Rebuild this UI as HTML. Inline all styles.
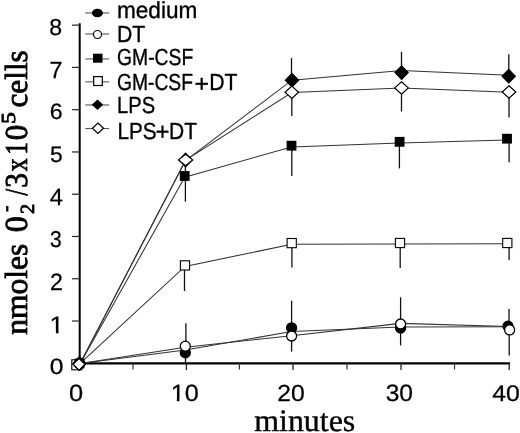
<!DOCTYPE html>
<html><head><meta charset="utf-8"><style>
html,body{margin:0;padding:0;background:#fff;}
body{width:520px;height:433px;overflow:hidden;}
svg{display:block;will-change:transform;}
text{text-rendering:geometricPrecision;fill:#000;}
</style></head><body>
<svg width="520" height="433" viewBox="0 0 520 433">
<line x1="79.7" y1="23.3" x2="79.7" y2="364.4" stroke="#000" stroke-width="2"/>
<line x1="78.7" y1="363.3" x2="510" y2="363.3" stroke="#000" stroke-width="2.2"/>
<line x1="72" y1="363.30" x2="79.7" y2="363.30" stroke="#222" stroke-width="1.2"/>
<line x1="72" y1="321.03" x2="79.7" y2="321.03" stroke="#222" stroke-width="1.2"/>
<line x1="72" y1="278.76" x2="79.7" y2="278.76" stroke="#222" stroke-width="1.2"/>
<line x1="72" y1="236.49" x2="79.7" y2="236.49" stroke="#222" stroke-width="1.2"/>
<line x1="72" y1="194.22" x2="79.7" y2="194.22" stroke="#222" stroke-width="1.2"/>
<line x1="72" y1="151.95" x2="79.7" y2="151.95" stroke="#222" stroke-width="1.2"/>
<line x1="72" y1="109.68" x2="79.7" y2="109.68" stroke="#222" stroke-width="1.2"/>
<line x1="72" y1="67.41" x2="79.7" y2="67.41" stroke="#222" stroke-width="1.2"/>
<line x1="72" y1="25.14" x2="79.7" y2="25.14" stroke="#222" stroke-width="1.2"/>
<line x1="186.4" y1="363.3" x2="186.4" y2="370" stroke="#222" stroke-width="1.3"/>
<line x1="293" y1="363.3" x2="293" y2="370" stroke="#222" stroke-width="1.3"/>
<line x1="401" y1="363.3" x2="401" y2="370" stroke="#222" stroke-width="1.3"/>
<line x1="509.2" y1="363.3" x2="509.2" y2="370" stroke="#222" stroke-width="1.3"/>
<line x1="133" y1="363.3" x2="133" y2="369.5" stroke="#333" stroke-width="1.2"/>
<line x1="239.4" y1="363.3" x2="239.4" y2="369.5" stroke="#333" stroke-width="1.2"/>
<line x1="347" y1="363.3" x2="347" y2="369.5" stroke="#333" stroke-width="1.2"/>
<line x1="454.5" y1="363.3" x2="454.5" y2="369.5" stroke="#333" stroke-width="1.2"/>
<polyline points="80.2,363.4 185.3,350.0 291.6,331.6 400.6,326.9 508.5,326.7" fill="none" stroke="#333" stroke-width="1.05"/>
<polyline points="80.2,363.4 185.3,347.3 291.6,335.7 400.6,323.4 508.5,326.6" fill="none" stroke="#333" stroke-width="1.05"/>
<polyline points="80.2,363.4 184.7,177.2 291.5,146.9 399.6,143.0 507.0,139.9" fill="none" stroke="#333" stroke-width="1.05"/>
<polyline points="80.2,363.4 185.0,266.4 291.7,244.3 400.0,244.0 507.3,243.8" fill="none" stroke="#333" stroke-width="1.05"/>
<polyline points="80.2,363.4 185.6,160.5 292.0,80.2 401.6,70.5 508.7,75.2" fill="none" stroke="#333" stroke-width="1.05"/>
<polyline points="80.2,363.4 185.6,160.1 291.8,92.5 401.5,88.1 509.0,92.2" fill="none" stroke="#333" stroke-width="1.05"/>
<line x1="185.5" y1="352.8" x2="185.5" y2="363.5" stroke="#111" stroke-width="1.3"/>
<line x1="291.6" y1="300.7" x2="291.6" y2="327.8" stroke="#111" stroke-width="1.3"/>
<line x1="400.6" y1="328.0" x2="400.6" y2="345.4" stroke="#111" stroke-width="1.3"/>
<line x1="509.0" y1="309" x2="509.0" y2="326.2" stroke="#111" stroke-width="1.3"/>
<line x1="185.9" y1="323.3" x2="185.9" y2="346.2" stroke="#111" stroke-width="1.3"/>
<line x1="291.6" y1="336.0" x2="291.6" y2="351.5" stroke="#111" stroke-width="1.3"/>
<line x1="400.6" y1="297.3" x2="400.6" y2="324" stroke="#111" stroke-width="1.3"/>
<line x1="509.2" y1="329.9" x2="509.2" y2="355.5" stroke="#111" stroke-width="1.3"/>
<line x1="185.4" y1="160" x2="185.4" y2="201.7" stroke="#111" stroke-width="1.3"/>
<line x1="291.8" y1="145.7" x2="291.8" y2="175.9" stroke="#111" stroke-width="1.3"/>
<line x1="399.4" y1="141.8" x2="399.4" y2="168.4" stroke="#111" stroke-width="1.3"/>
<line x1="509.1" y1="138.7" x2="509.1" y2="162.3" stroke="#111" stroke-width="1.3"/>
<line x1="184.5" y1="265.4" x2="184.5" y2="291" stroke="#111" stroke-width="1.3"/>
<line x1="291.9" y1="243.1" x2="291.9" y2="267.6" stroke="#111" stroke-width="1.3"/>
<line x1="400.2" y1="243" x2="400.2" y2="268" stroke="#111" stroke-width="1.3"/>
<line x1="509.1" y1="243" x2="509.1" y2="259.9" stroke="#111" stroke-width="1.3"/>
<line x1="291.5" y1="58.1" x2="291.5" y2="80.2" stroke="#111" stroke-width="1.3"/>
<line x1="401.5" y1="51.8" x2="401.5" y2="72.6" stroke="#111" stroke-width="1.3"/>
<line x1="508.8" y1="54.3" x2="508.8" y2="76.2" stroke="#111" stroke-width="1.3"/>
<line x1="291.8" y1="92.3" x2="291.8" y2="116" stroke="#111" stroke-width="1.3"/>
<line x1="401.5" y1="87.9" x2="401.5" y2="111.4" stroke="#111" stroke-width="1.3"/>
<line x1="509.0" y1="92" x2="509.0" y2="117.5" stroke="#111" stroke-width="1.3"/>
<rect x="75.20" y="359.20" width="8.60" height="8.60" fill="#000" stroke="#000" stroke-width="1.2"/>
<rect x="180.40" y="171.70" width="8.60" height="8.60" fill="#000" stroke="#000" stroke-width="1.2"/>
<rect x="287.20" y="141.40" width="8.60" height="8.60" fill="#000" stroke="#000" stroke-width="1.2"/>
<rect x="395.30" y="137.50" width="8.60" height="8.60" fill="#000" stroke="#000" stroke-width="1.2"/>
<rect x="502.70" y="134.40" width="8.60" height="8.60" fill="#000" stroke="#000" stroke-width="1.2"/>
<rect x="71.80" y="359.80" width="10.00" height="10.00" fill="#fff" stroke="#000" stroke-width="1.1"/>
<rect x="180.40" y="260.80" width="9.20" height="9.20" fill="#fff" stroke="#000" stroke-width="1.1"/>
<rect x="287.10" y="238.50" width="9.20" height="9.20" fill="#fff" stroke="#000" stroke-width="1.1"/>
<rect x="395.40" y="238.40" width="9.20" height="9.20" fill="#fff" stroke="#000" stroke-width="1.1"/>
<rect x="502.70" y="238.40" width="9.20" height="9.20" fill="#fff" stroke="#000" stroke-width="1.1"/>
<circle cx="79.5" cy="363.5" r="5.0" fill="#000" stroke="#000" stroke-width="1.3"/>
<circle cx="185.3" cy="352.8" r="5.0" fill="#000" stroke="#000" stroke-width="1.3"/>
<circle cx="291.6" cy="327.8" r="5.0" fill="#000" stroke="#000" stroke-width="1.3"/>
<circle cx="400.6" cy="328.0" r="5.0" fill="#000" stroke="#000" stroke-width="1.3"/>
<circle cx="508.0" cy="326.2" r="5.0" fill="#000" stroke="#000" stroke-width="1.3"/>
<circle cx="79.5" cy="363.5" r="5.0" fill="#fff" stroke="#000" stroke-width="1.3"/>
<circle cx="185.3" cy="346.2" r="5.0" fill="#fff" stroke="#000" stroke-width="1.3"/>
<circle cx="291.6" cy="336.0" r="5.0" fill="#fff" stroke="#000" stroke-width="1.3"/>
<circle cx="400.6" cy="324.0" r="5.0" fill="#fff" stroke="#000" stroke-width="1.3"/>
<circle cx="509.6" cy="329.9" r="5.0" fill="#fff" stroke="#000" stroke-width="1.3"/>
<polygon points="79.5,356.7 86.1,363.5 79.5,370.3 72.9,363.5" fill="#000" stroke="#000" stroke-width="1.2"/>
<polygon points="185.6,153.2 192.2,160.0 185.6,166.8 179.0,160.0" fill="#000" stroke="#000" stroke-width="1.2"/>
<polygon points="292.0,73.4 298.6,80.2 292.0,87.0 285.4,80.2" fill="#000" stroke="#000" stroke-width="1.2"/>
<polygon points="401.6,65.8 408.20000000000005,72.6 401.6,79.39999999999999 395.0,72.6" fill="#000" stroke="#000" stroke-width="1.2"/>
<polygon points="508.7,69.4 515.3,76.2 508.7,83.0 502.09999999999997,76.2" fill="#000" stroke="#000" stroke-width="1.2"/>
<polygon points="79.0,358.5 85.0,364.3 79.0,370.1 73.0,364.3" fill="#fff" stroke="#000" stroke-width="1.2"/>
<polygon points="185.6,154.20000000000002 192.7,159.9 185.6,165.6 178.5,159.9" fill="#fff" stroke="#000" stroke-width="1.2"/>
<polygon points="291.8,86.1 298.6,92.3 291.8,98.5 285.0,92.3" fill="#fff" stroke="#000" stroke-width="1.2"/>
<polygon points="401.5,81.7 408.3,87.9 401.5,94.10000000000001 394.7,87.9" fill="#fff" stroke="#000" stroke-width="1.2"/>
<polygon points="509.0,85.8 515.8,92.0 509.0,98.2 502.2,92.0" fill="#fff" stroke="#000" stroke-width="1.2"/>
<line x1="85.3" y1="12.96" x2="109.1" y2="12.96" stroke="#555" stroke-width="1.1"/>
<line x1="85.3" y1="34.0" x2="109.1" y2="34.0" stroke="#555" stroke-width="1.1"/>
<line x1="85.3" y1="58.95" x2="109.1" y2="58.95" stroke="#555" stroke-width="1.1"/>
<line x1="85.3" y1="81.85" x2="109.1" y2="81.85" stroke="#555" stroke-width="1.1"/>
<line x1="85.3" y1="104.96" x2="109.1" y2="104.96" stroke="#555" stroke-width="1.1"/>
<line x1="85.3" y1="128.5" x2="109.1" y2="128.5" stroke="#555" stroke-width="1.1"/>
<ellipse cx="97.4" cy="13.0" rx="5.5" ry="4.3" fill="#000"/>
<circle cx="97.5" cy="34.5" r="4.0" fill="#fff" stroke="#000" stroke-width="1.2"/>
<rect x="93.0" y="53.7" width="9.5" height="9.0" fill="#000"/>
<rect x="93.7" y="76.6" width="8.6" height="8.9" fill="#fff" stroke="#000" stroke-width="1.2"/>
<polygon points="97.45,99.5 103.2,104.7 97.45,109.9 91.7,104.7" fill="#000"/>
<polygon points="97.95,122.94999999999999 103.55,128.2 97.95,133.45 92.35000000000001,128.2" fill="#fff" stroke="#000" stroke-width="1.2"/>
<text x="116.97" y="17.90" textLength="80.35" lengthAdjust="spacingAndGlyphs" style='font-family:"Liberation Sans", sans-serif;font-size:23.20px' stroke="#000" stroke-width="0.35">medium</text>
<text x="116.93" y="41.80" textLength="28.29" lengthAdjust="spacingAndGlyphs" style='font-family:"Liberation Sans", sans-serif;font-size:23.20px' stroke="#000" stroke-width="0.35">DT</text>
<text x="117.00" y="65.35" textLength="76.21" lengthAdjust="spacingAndGlyphs" style='font-family:"Liberation Sans", sans-serif;font-size:23.20px' stroke="#000" stroke-width="0.35">GM-CSF</text>
<text style='font-family:"Liberation Sans", sans-serif' stroke="#000" stroke-width="0.35"><tspan x="117.00" y="90.20" textLength="76.00" lengthAdjust="spacingAndGlyphs" style="font-size:23.20px">GM-CSF</tspan><tspan x="194.56" y="91.88" textLength="14.50" lengthAdjust="spacingAndGlyphs" style="font-size:24.45px">+</tspan><tspan x="209.13" y="90.20" textLength="28.29" lengthAdjust="spacingAndGlyphs" style="font-size:23.20px">DT</tspan></text>
<text x="117.12" y="113.35" textLength="38.03" lengthAdjust="spacingAndGlyphs" style='font-family:"Liberation Sans", sans-serif;font-size:23.20px' stroke="#000" stroke-width="0.35">LPS</text>
<text style='font-family:"Liberation Sans", sans-serif' stroke="#000" stroke-width="0.35"><tspan x="117.57" y="138.75" textLength="39.11" lengthAdjust="spacingAndGlyphs" style="font-size:23.20px">LPS</tspan><tspan x="155.40" y="139.51" textLength="14.02" lengthAdjust="spacingAndGlyphs" style="font-size:24.85px">+</tspan><tspan x="169.05" y="138.75" textLength="27.96" lengthAdjust="spacingAndGlyphs" style="font-size:23.20px">DT</tspan></text>
<text x="49.31" y="35.16" textLength="12.87" lengthAdjust="spacingAndGlyphs" style='font-family:"Liberation Sans", sans-serif;font-size:22.97px' stroke="#000" stroke-width="0.25">8</text>
<text x="49.62" y="78.08" textLength="13.04" lengthAdjust="spacingAndGlyphs" style='font-family:"Liberation Sans", sans-serif;font-size:23.34px' stroke="#000" stroke-width="0.25">7</text>
<text x="49.65" y="119.06" textLength="12.85" lengthAdjust="spacingAndGlyphs" style='font-family:"Liberation Sans", sans-serif;font-size:22.26px' stroke="#000" stroke-width="0.25">6</text>
<text x="50.10" y="162.46" textLength="12.74" lengthAdjust="spacingAndGlyphs" style='font-family:"Liberation Sans", sans-serif;font-size:22.44px' stroke="#000" stroke-width="0.25">5</text>
<text x="49.68" y="205.18" textLength="13.20" lengthAdjust="spacingAndGlyphs" style='font-family:"Liberation Sans", sans-serif;font-size:23.63px' stroke="#000" stroke-width="0.25">4</text>
<text x="50.12" y="247.26" textLength="11.68" lengthAdjust="spacingAndGlyphs" style='font-family:"Liberation Sans", sans-serif;font-size:22.97px' stroke="#000" stroke-width="0.25">3</text>
<text x="50.05" y="289.78" textLength="12.89" lengthAdjust="spacingAndGlyphs" style='font-family:"Liberation Sans", sans-serif;font-size:23.72px' stroke="#000" stroke-width="0.25">2</text>
<text x="49.86" y="374.26" textLength="13.68" lengthAdjust="spacingAndGlyphs" style='font-family:"Liberation Sans", sans-serif;font-size:22.12px' stroke="#000" stroke-width="0.25">0</text>
<text x="49.61" y="332.90" textLength="14.38" lengthAdjust="spacingAndGlyphs" style='font-family:"Liberation Sans", sans-serif;font-size:23.80px' stroke="#000" stroke-width="0.25">1</text>
<rect x="50.75" y="330.67" width="5.17" height="3.78" fill="#fff"/>
<rect x="58.60" y="330.67" width="4.97" height="3.78" fill="#fff"/>
<text x="68.93" y="401.35" textLength="14.15" lengthAdjust="spacingAndGlyphs" style='font-family:"Liberation Sans", sans-serif;font-size:23.53px' stroke="#000" stroke-width="0.25">0</text>
<text x="277.18" y="400.75" textLength="27.47" lengthAdjust="spacingAndGlyphs" style='font-family:"Liberation Sans", sans-serif;font-size:23.11px' stroke="#000" stroke-width="0.25">20</text>
<text x="385.68" y="401.15" textLength="27.36" lengthAdjust="spacingAndGlyphs" style='font-family:"Liberation Sans", sans-serif;font-size:23.67px' stroke="#000" stroke-width="0.25">30</text>
<text x="492.15" y="400.56" textLength="27.60" lengthAdjust="spacingAndGlyphs" style='font-family:"Liberation Sans", sans-serif;font-size:22.68px' stroke="#000" stroke-width="0.25">40</text>
<text x="170.68" y="400.88" textLength="28.01" lengthAdjust="spacingAndGlyphs" style='font-family:"Liberation Sans", sans-serif;font-size:23.50px' stroke="#000" stroke-width="0.25">10</text>
<rect x="171.78" y="398.67" width="5.02" height="3.76" fill="#fff"/>
<rect x="179.43" y="398.67" width="4.84" height="3.76" fill="#fff"/>
<text x="254.23" y="431.00" textLength="101.02" lengthAdjust="spacingAndGlyphs" style='font-family:"Liberation Serif", serif;font-size:31.50px' stroke="#000" stroke-width="0.4">minutes</text>
<g transform="translate(27.4,334.5) rotate(-90)"><text style='font-family:"Liberation Serif", serif' stroke="#000" stroke-width="0.8"><tspan x="-0.32" y="0.00" textLength="90.96" lengthAdjust="spacingAndGlyphs" style="font-size:32.00px">nmoles</tspan><tspan x="102.17" y="0.00" textLength="16.16" lengthAdjust="spacingAndGlyphs" style="font-size:32.00px">0</tspan><tspan x="120.50" y="6.20" textLength="10.23" lengthAdjust="spacingAndGlyphs" style="font-size:20.00px">2</tspan><tspan x="122.73" y="-15.80" textLength="6.03" lengthAdjust="spacingAndGlyphs" style="font-size:20.00px">-</tspan><tspan x="139.00" y="0.00" textLength="6.50" lengthAdjust="spacingAndGlyphs" style="font-size:32.00px">/</tspan><tspan x="146.70" y="0.00" textLength="14.65" lengthAdjust="spacingAndGlyphs" style="font-size:32.00px">3</tspan><tspan x="163.37" y="0.00" textLength="12.84" lengthAdjust="spacingAndGlyphs" style="font-size:32.00px">x</tspan><tspan x="179.78" y="0.00" textLength="12.64" lengthAdjust="spacingAndGlyphs" style="font-size:32.00px">1</tspan><tspan x="194.22" y="0.00" textLength="15.45" lengthAdjust="spacingAndGlyphs" style="font-size:32.00px">0</tspan><tspan x="210.62" y="-12.30" textLength="11.92" lengthAdjust="spacingAndGlyphs" style="font-size:20.00px">5</tspan><tspan x="227.01" y="0.00" textLength="57.22" lengthAdjust="spacingAndGlyphs" style="font-size:32.00px">cells</tspan></text></g>
</svg>
</body></html>
